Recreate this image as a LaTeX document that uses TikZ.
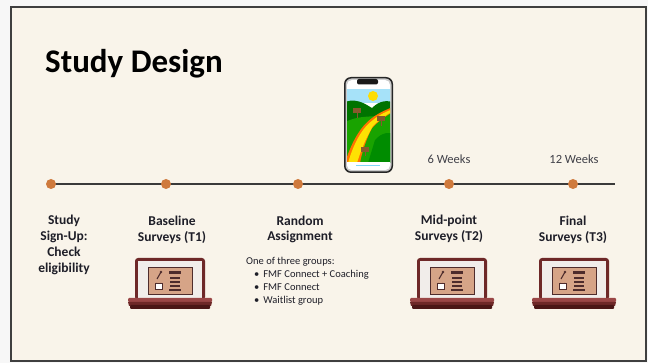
\documentclass[tikz,border=0pt]{standalone}
\usepackage{fontspec}
\setmainfont{Carlito}
\begin{document}
\definecolor{paper}{HTML}{F9F4EA}
\definecolor{edge}{HTML}{3F3F3F}
\definecolor{dotc}{HTML}{CF7A3D}
\definecolor{tlc}{HTML}{3A3A3A}
\definecolor{txt}{HTML}{1E1E28}
\definecolor{lapm}{HTML}{6E2828}
\definecolor{lapl}{HTML}{9A4646}
\definecolor{lapd}{HTML}{4A1616}
\definecolor{lapw}{HTML}{F1EDEA}
\definecolor{lapt}{HTML}{D6A487}
\definecolor{lapi}{HTML}{4E2C2C}
\tikzset{
  dot/.style={circle, fill=dotc, minimum size=10pt, inner sep=0pt},
  tline/.style={draw=tlc, line width=2.4pt},
  label/.style={align=center, text=txt, font=\fontsize{13.5}{15.8}\selectfont\bfseries, inner sep=0pt},
  weeks/.style={text=txt!85, font=\fontsize{12.5}{14}\selectfont, inner sep=0pt},
  small/.style={align=left, text=txt, font=\fontsize{10.5}{13}\selectfont, inner sep=0pt},
  laptop/.pic={
    % screen lid
    \fill[lapm, rounded corners=3pt] (-35,0) rectangle (35,42);
    \fill[lapw] (-32,3) rectangle (32,40);
    \fill[lapt] (-22,9) rectangle (22,36);
    \draw[lapi, line width=0.9pt] (-22,9) rectangle (22,36);
    % padlock-like icon
    \draw[lapi, line width=1.1pt] (-9,14) -- (-13,21);
    \fill[lapi] (-9,14) circle (1.3pt);
    \draw[lapi, line width=1pt] (-14,25) arc (180:0:2.5);
    \filldraw[fill=white, draw=lapi, line width=1pt] (-15,26) rectangle (-8,32);
    % list icon
    \fill[lapi] (-1,13) rectangle (11,16);
    \draw[lapi, line width=1.3pt] (0,20) -- (10,20) (0,24) -- (10,24) (0,28) -- (10,28);
    \fill[lapi] (-1,31) rectangle (11,33);
    % base
    \fill[lapl, rounded corners=1pt] (-42,40) rectangle (42,44);
    \fill[lapm] (-42,44) -- (42,44) -- (41,48) -- (-41,48) -- cycle;
    \fill[lapd, rounded corners=1pt] (-40,47) rectangle (40,51);
  }
}
\begin{tikzpicture}[x=1pt,y=-1pt]
\useasboundingbox (0,0) rectangle (648,363);
\fill[white!97!black] (0,0) rectangle (648,363);
\draw[edge, line width=2pt, fill=paper] (11,7) rectangle (646,361);

% title
\node[anchor=base west, inner sep=0pt, text=black,
      font=\fontsize{33}{37}\selectfont\bfseries] (title) at (45,73) {Study Design};

% phone
\begin{scope}
  \fill[black!85, rounded corners=7pt] (344,77) rectangle (393,173);
  \fill[black!20, rounded corners=6pt] (345.5,78.5) rectangle (391.5,171.5);
  \begin{scope}
    \clip[rounded corners=5pt] (347,80) rectangle (390,170);
    \fill[white] (340,75) rectangle (395,175);
    \fill[cyan!35!white] (340,89) rectangle (395,103);
    \fill[yellow!80!orange] (373,96) circle (5pt);
    \fill[green!45!black] (340,104) .. controls (355,96) and (365,104) .. (372,108)
         .. controls (380,100) and (388,100) .. (395,103) -- (395,163) -- (340,163) -- cycle;
    \fill[green!60!black!90!yellow] (340,125) .. controls (360,112) and (375,120) .. (395,112)
         -- (395,163) -- (340,163) -- cycle;
    \fill[orange!90!red] (345,163) .. controls (352,140) and (362,125) .. (372,118)
         .. controls (380,112) and (386,110) .. (395,106) -- (395,111)
         .. controls (385,116) and (378,122) .. (372,128)
         .. controls (366,140) and (362,152) .. (360,163) -- cycle;
    \fill[yellow!85!orange] (348,163) .. controls (354,142) and (363,127) .. (373,120)
         .. controls (380,114) and (386,112) .. (395,108) -- (395,110)
         .. controls (386,115) and (379,120) .. (373,126)
         .. controls (366,138) and (361,150) .. (357,163) -- cycle;
    \fill[green!55!black] (375,140) .. controls (382,132) and (390,132) .. (395,134) -- (395,163) -- (368,163) -- cycle;
    \fill[brown!70!black] (353,108) rectangle (361,113);
    \fill[brown!70!black] (357,113) rectangle (358,118);
    \fill[brown!70!black] (377,116) rectangle (385,121);
    \fill[brown!70!black] (381,121) rectangle (382,126);
    \fill[brown!70!black] (361,147) rectangle (369,152);
    \fill[brown!70!black] (365,152) rectangle (366,156);
    \fill[white] (340,162) rectangle (395,175);
    \fill[cyan!50!white] (356,165) rectangle (380,166);
  \end{scope}
  \fill[black!90, rounded corners=2pt] (357,79) rectangle (378,84.5);
\end{scope}

% timeline
\coordinate (t1) at (51,184);
\coordinate (t2) at (166,184);
\coordinate (t3) at (298,184);
\coordinate (t4) at (449,184);
\coordinate (t5) at (573,184);
\coordinate (tend) at (615,184);
\draw[tline] (t1) -- (tend);
\node[dot] (d1) at (t1) {};
\node[dot] (d2) at (t2) {};
\node[dot] (d3) at (t3) {};
\node[dot] (d4) at (t4) {};
\node[dot] (d5) at (t5) {};

\node[weeks] (w6) at (449,159) {6 Weeks};
\node[weeks] (w12) at (574,159) {12 Weeks};

% stage labels
\node[label] (s1) at (64,245) {Study\\Sign-Up:\\Check\\eligibility};
\node[label] (s2) at (172,229.5) {Baseline\\Surveys (T1)};
\node[label] (s3) at (300,229.5) {Random\\Assignment};
\node[label] (s4) at (449,229) {Mid-point\\Surveys (T2)};
\node[label] (s5) at (573,230) {Final\\Surveys (T3)};

\node[small, anchor=north west] (groups) at (246,257) {One of three groups:\\
  \hspace*{8pt}\textbullet\hspace{4pt}FMF Connect + Coaching\\
  \hspace*{8pt}\textbullet\hspace{4pt}FMF Connect\\
  \hspace*{8pt}\textbullet\hspace{4pt}Waitlist group};

% laptops
\pic at (170,258) {laptop};
\pic at (452,258) {laptop};
\pic at (574,258) {laptop};
\end{tikzpicture}
\end{document}
